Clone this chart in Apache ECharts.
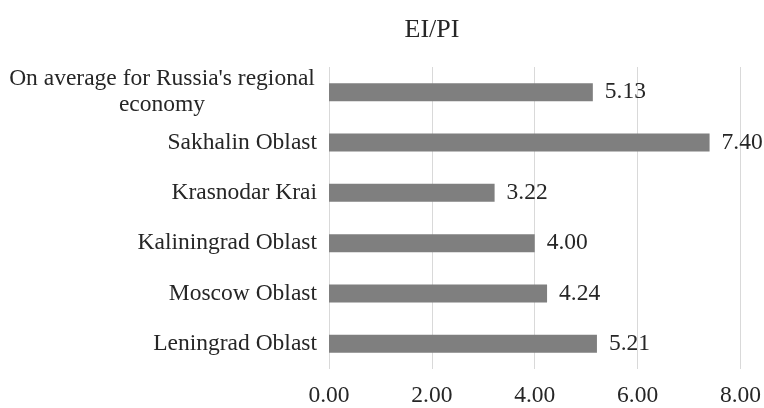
<!DOCTYPE html>
<html>
<head>
<meta charset="utf-8">
<script src="https://cdn.jsdelivr.net/npm/echarts@6/dist/echarts.min.js"></script>
<style>
  html, body { margin: 0; padding: 0; background: #ffffff; }
  #chart { width: 764px; height: 408px; }
</style>
</head>
<body>
<div id="chart"></div>
<script>
// Regions, listed top to bottom
const regions = [
  "On average for Russia's regional economy",
  "Sakhalin Oblast",
  "Krasnodar Krai",
  "Kaliningrad Oblast",
  "Moscow Oblast",
  "Leningrad Oblast"
];
// EI/PI ratio for each region
const ratios = [5.13, 7.40, 3.22, 4.00, 4.24, 5.21];
// Value axis ticks
const xTicks = [0, 2, 4, 6, 8];

const FONT = "'Liberation Serif', 'Times New Roman', serif";
const TEXT = '#262626';
const SIZE = 23.5;

const chart = echarts.init(document.getElementById('chart'), null, { renderer: 'canvas' });

chart.setOption({
  backgroundColor: '#ffffff',
  animation: false,
  title: {
    text: 'EI/PI',
    left: 427,
    top: 12,
    textAlign: 'center',
    textStyle: { fontFamily: FONT, fontSize: 26, fontWeight: 'normal', color: TEXT }
  },
  grid: { left: 329, right: 23, top: 67, bottom: 39, containLabel: false },
  xAxis: {
    type: 'value',
    min: xTicks[0],
    max: xTicks[xTicks.length - 1],
    interval: xTicks[1] - xTicks[0],
    axisLine: { show: false },
    axisTick: { show: false },
    splitLine: { show: true, lineStyle: { color: '#d9d9d9', width: 1 } },
    axisLabel: {
      margin: 15,
      fontFamily: FONT,
      fontSize: SIZE,
      color: TEXT,
      formatter: v => v.toFixed(2)
    }
  },
  yAxis: {
    type: 'category',
    inverse: true,
    data: regions,
    axisLine: { show: false },
    axisTick: { show: false },
    axisLabel: {
      margin: 12,
      fontFamily: FONT,
      fontSize: SIZE,
      color: TEXT,
      lineHeight: 26,
      formatter: function (name) {
        if (name.indexOf('regional economy') >= 0) {
          return "{c|On average for Russia's regional}\n{c|economy}";
        }
        return name;
      },
      rich: {
        c: { width: 310, align: 'center', fontFamily: FONT, fontSize: SIZE, color: TEXT, lineHeight: 26 }
      }
    }
  },
  series: [{
    type: 'bar',
    data: ratios,
    barWidth: 18,
    itemStyle: { color: '#7f7f7f' },
    label: {
      show: true,
      position: 'right',
      distance: 12,
      fontFamily: FONT,
      fontSize: SIZE,
      color: TEXT,
      formatter: p => p.value.toFixed(2)
    }
  }]
});
</script>
</body>
</html>
